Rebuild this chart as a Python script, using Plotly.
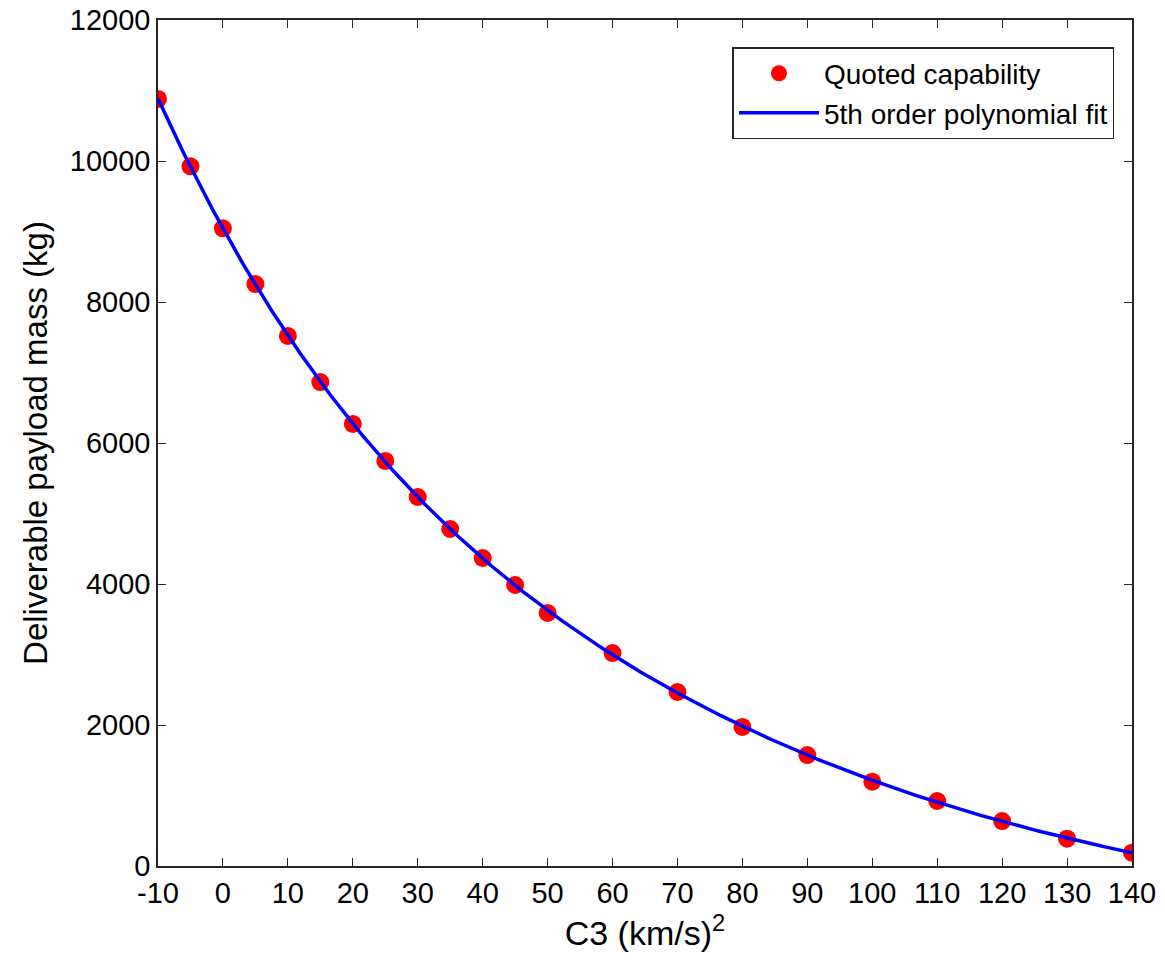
import numpy as np
import plotly.graph_objects as go

c3 = [-10, -5, 0, 5, 10, 15, 20, 25, 30, 35, 40, 45, 50, 60, 70, 80, 90, 100, 110, 120, 130, 140]
mass = [10880, 9925, 9045, 8255, 7518, 6865, 6270, 5745, 5234, 4780, 4369, 3986, 3589,
        3021, 2468, 1972, 1574, 1196, 922, 638, 387, 189]
x_ticks = [-10, 0, 10, 20, 30, 40, 50, 60, 70, 80, 90, 100, 110, 120, 130, 140]
y_ticks = [0, 2000, 4000, 6000, 8000, 10000, 12000]

coef = np.polyfit(c3, mass, 5)
xf = np.linspace(min(c3), max(c3), 400)
yf = np.polyval(coef, xf)

FONT = "Liberation Sans, Arial, Helvetica"

fig = go.Figure()
fig.add_trace(go.Scatter(x=c3, y=mass, mode="markers", name="Quoted capability",
                         marker=dict(color="#ff0000", size=18, line=dict(width=0))))
fig.add_trace(go.Scatter(x=xf, y=yf, mode="lines", name="5th order polynomial fit",
                         line=dict(color="#0000ff", width=3.5)))

axis_common = dict(showline=True, linecolor="#262626", linewidth=1.5, mirror="ticks",
                   ticks="inside", ticklen=8, tickcolor="#262626", showgrid=False,
                   zeroline=False, automargin=False,
                   tickfont=dict(family=FONT, size=29, color="black"))

fig.update_xaxes(range=[-10, 140], tickvals=x_ticks, ticktext=[str(v) for v in x_ticks],
                 title=dict(text="C3 (km/s)<sup>2</sup>", font=dict(family=FONT, size=34, color="black"), standoff=6),
                 **axis_common)
fig.update_yaxes(range=[0, 12000], tickvals=y_ticks, ticktext=[str(v) for v in y_ticks],
                 title=dict(text="Deliverable payload mass (kg)", font=dict(family=FONT, size=33, color="black"), standoff=12),
                 **axis_common)

fig.update_layout(
    width=1165, height=964,
    margin=dict(l=158, r=33, t=20, b=98),
    plot_bgcolor="white", paper_bgcolor="white",
    legend=dict(x=0.982, y=0.968, xanchor="right", yanchor="top",
                bordercolor="#262626", borderwidth=1.5, bgcolor="white",
                font=dict(family=FONT, size=28, color="black"),
                itemwidth=80, tracegroupgap=0),
    showlegend=True,
)

fig.write_html("out.html", config={"displayModeBar": False},
               post_script="document.body.style.margin='0';document.body.style.padding='0';")
